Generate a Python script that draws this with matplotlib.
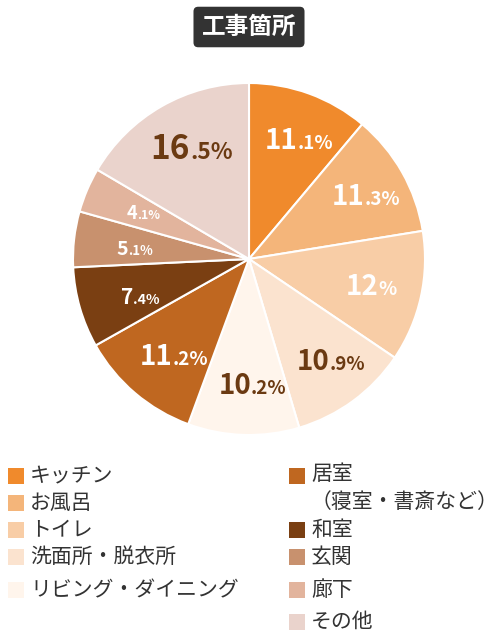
import matplotlib.pyplot as plt
import numpy as np

plt.rcParams['font.family'] = ['Noto Sans CJK JP', 'DejaVu Sans']

labels = ["キッチン", "お風呂", "トイレ", "洗面所・脱衣所", "リビング・ダイニング",
          "居室\n（寝室・書斎など）", "和室", "玄関", "廊下", "その他"]
values = [11.1, 11.3, 12, 10.9, 10.2, 11.2, 7.4, 5.1, 4.1, 16.5]
colors = ["#F08A2C", "#F4B57A", "#F8CDA6", "#FBE3CF", "#FFF5EC",
          "#BF6720", "#7A3F12", "#C8916E", "#E2B49D", "#EAD3CC"]
text_colors = ["white", "white", "white", "#6B3A12", "#6B3A12",
               "white", "white", "white", "white", "#6B3A12"]
big = [20, 20, 20, 20, 20, 20, 15, 14, 13, 24]

W, H = 498, 636
fig = plt.figure(figsize=(W / 100, H / 100), dpi=100)
cx, cy, r = 249, 259, 176
ax = fig.add_axes([(cx - r) / W, 1 - (cy + r) / H, 2 * r / W, 2 * r / H])
ax.pie(values, colors=colors, startangle=90, counterclock=False,
       wedgeprops=dict(edgecolor="white", linewidth=1.5), radius=1)
ax.set_xlim(-1, 1)
ax.set_ylim(-1, 1)
ax.set_aspect("auto")

ang = 90.0
for v, tc, fs in zip(values, text_colors, big):
    mid = np.radians(ang - v * 360 / 200)
    ang -= v * 360 / 100
    rr = 0.72
    x, y = rr * np.cos(mid), rr * np.sin(mid)
    s = f"{v:g}"
    if "." in s:
        ip, dp = s.split(".")
        dp = "." + dp + "%"
    else:
        ip, dp = s, "%"
    ax.text(x + 0.03, y - 0.05, ip, ha="right", va="baseline", fontsize=fs,
            fontweight="bold", color=tc)
    ax.text(x + 0.03, y - 0.05, dp, ha="left", va="baseline", fontsize=fs * 0.68,
            fontweight="bold", color=tc)

# title
fig.text(cx / W, 1 - 27 / H, "工事箇所", ha="center", va="center", fontsize=17,
         fontweight="bold", color="white",
         bbox=dict(boxstyle="round,pad=0.35,rounding_size=0.2", fc="#333333", ec="none"))

# legend
left_y = [476, 503, 530, 557, 590]
right_y = [476, 530, 557, 590, 622]
pos = [(8, y) for y in left_y] + [(289, y) for y in right_y]
for (px, py), lab, c in zip(pos, labels, colors):
    fig.patches.append(plt.Rectangle((px / W, 1 - (py + 8) / H), 16 / W, 16 / H,
                                     transform=fig.transFigure, fc=c, ec="none"))
    if "\n" in lab:
        fig.text((px + 22) / W, 1 - (py - 13) / H, lab, ha="left", va="top",
                 fontsize=15, color="#333333", linespacing=1.35)
    else:
        fig.text((px + 22) / W, 1 - py / H, lab, ha="left", va="center",
                 fontsize=15, color="#333333")

fig.savefig("out.png", dpi=100)
